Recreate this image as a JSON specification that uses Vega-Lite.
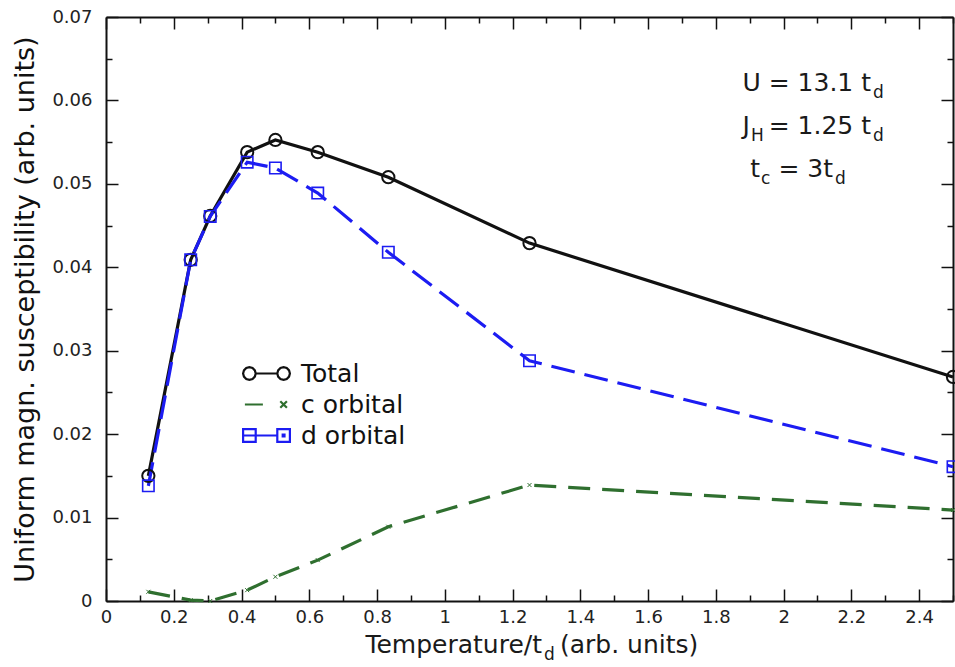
{
  "$schema": "https://vega.github.io/schema/vega-lite/v6.json",
  "width": 847,
  "height": 584,
  "autosize": {"type": "none"},
  "padding": {"left": 106, "top": 17, "right": 2, "bottom": 66},
  "background": "white",
  "config": {
    "font": "DejaVu Sans",
    "view": {"stroke": null},
    "axis": {"grid": false, "domainColor": "#111", "domainWidth": 2, "tickColor": "#111", "tickWidth": 1.5, "labelColor": "#222", "labelFont": "DejaVu Sans", "labelFontSize": 18, "labelFlush": false, "labelOverlap": false, "titleFont": "DejaVu Sans", "titleFontWeight": "normal", "titleColor": "#111"}
  },
  "datasets": {
    "chi": [
      {"T": 0.125, "chi": 0.0150, "s": "Total"},
      {"T": 0.25, "chi": 0.0409, "s": "Total"},
      {"T": 0.3077, "chi": 0.04615, "s": "Total"},
      {"T": 0.4167, "chi": 0.0538, "s": "Total"},
      {"T": 0.5, "chi": 0.05526, "s": "Total"},
      {"T": 0.625, "chi": 0.0538, "s": "Total"},
      {"T": 0.8333, "chi": 0.0508, "s": "Total"},
      {"T": 1.25, "chi": 0.0429, "s": "Total"},
      {"T": 2.5, "chi": 0.02685, "s": "Total"},
      {"T": 0.125, "chi": 0.0011, "s": "c orbital"},
      {"T": 0.25, "chi": 0.0001, "s": "c orbital"},
      {"T": 0.3077, "chi": 0.0, "s": "c orbital"},
      {"T": 0.4167, "chi": 0.0013, "s": "c orbital"},
      {"T": 0.5, "chi": 0.0029, "s": "c orbital"},
      {"T": 0.625, "chi": 0.0049, "s": "c orbital"},
      {"T": 0.8333, "chi": 0.0089, "s": "c orbital"},
      {"T": 1.25, "chi": 0.0139, "s": "c orbital"},
      {"T": 2.5, "chi": 0.0109, "s": "c orbital"},
      {"T": 0.125, "chi": 0.0138, "s": "d orbital"},
      {"T": 0.25, "chi": 0.0409, "s": "d orbital"},
      {"T": 0.3077, "chi": 0.0461, "s": "d orbital"},
      {"T": 0.4167, "chi": 0.0526, "s": "d orbital"},
      {"T": 0.5, "chi": 0.0519, "s": "d orbital"},
      {"T": 0.625, "chi": 0.0489, "s": "d orbital"},
      {"T": 0.8333, "chi": 0.0418, "s": "d orbital"},
      {"T": 1.25, "chi": 0.0288, "s": "d orbital"},
      {"T": 2.5, "chi": 0.0161, "s": "d orbital"}
    ],
    "notes": [
      {"T": 2.258, "chi": 0.06113, "label": "U = 13.1 t", "part": "main"},
      {"T": 2.2639, "chi": 0.06113, "label": "d", "part": "sub"},
      {"T": 1.9008, "chi": 0.05597, "label": "J", "part": "main"},
      {"T": 1.9038, "chi": 0.05597, "label": "H", "part": "sub"},
      {"T": 2.258, "chi": 0.05597, "label": "= 1.25 t", "part": "main"},
      {"T": 2.2639, "chi": 0.05597, "label": "d", "part": "sub"},
      {"T": 1.9303, "chi": 0.05082, "label": "t", "part": "main"},
      {"T": 1.9333, "chi": 0.05082, "label": "c", "part": "sub"},
      {"T": 2.1458, "chi": 0.05082, "label": "= 3t", "part": "main"},
      {"T": 2.1517, "chi": 0.05082, "label": "d", "part": "sub"},
      {"T": 1.287, "chi": -0.00623, "label": "Temperature/t", "part": "main"},
      {"T": 1.293, "chi": -0.00623, "label": "d", "part": "sub"},
      {"T": 1.340, "chi": -0.00623, "label": "(arb. units)", "part": "tail"}
    ]
  },
  "layer": [
    {
      "data": {"name": "chi"},
      "transform": [{"filter": "datum.s == 'Total'"}],
      "mark": {"type": "line", "strokeWidth": 3.2, "stroke": "#111111"},
      "encoding": {
        "x": {"field": "T", "type": "quantitative", "scale": {"domain": [0, 2.5], "nice": false, "zero": false}, "axis": null},
        "y": {"field": "chi", "type": "quantitative", "scale": {"domain": [0, 0.07], "nice": false, "zero": false}, "axis": null}
      }
    },
    {
      "data": {"name": "chi"},
      "transform": [{"filter": "datum.s == 'c orbital'"}],
      "mark": {"type": "line", "strokeWidth": 3.2, "stroke": "#2f6f2f", "strokeDash": [22, 12]},
      "encoding": {
        "x": {"field": "T", "type": "quantitative", "axis": null},
        "y": {"field": "chi", "type": "quantitative", "axis": null}
      }
    },
    {
      "data": {"name": "chi"},
      "transform": [{"filter": "datum.s == 'd orbital'"}],
      "mark": {"type": "line", "strokeWidth": 3.2, "stroke": "#1c1cf2", "strokeDash": [24, 10]},
      "encoding": {
        "x": {"field": "T", "type": "quantitative", "axis": null},
        "y": {"field": "chi", "type": "quantitative", "axis": null}
      }
    },
    {
      "data": {"name": "chi"},
      "transform": [{"filter": "datum.T < 0"}],
      "mark": {"type": "point", "filled": false, "strokeWidth": 2.2, "size": 144, "opacity": 1},
      "encoding": {
        "x": {"field": "T", "type": "quantitative", "axis": null},
        "y": {"field": "chi", "type": "quantitative", "axis": null},
        "color": {"field": "s", "type": "nominal", "scale": {"domain": ["Total", "c orbital", "d orbital"], "range": ["#111111", "#2f6f2f", "#1c1cf2"]},
          "legend": {"orient": "none", "legendX": 148, "legendY": 344, "title": null, "labelFontSize": 25, "labelFont": "DejaVu Sans", "labelColor": "#111", "symbolSize": 144, "symbolStrokeWidth": 2.2, "symbolOpacity": 1, "labelOffset": 22, "rowPadding": 5, "padding": 0}},
        "shape": {"field": "s", "type": "nominal",
          "scale": {"domain": ["Total", "c orbital", "d orbital"], "range": [
            "M-1.8,0L-1.941,0.525L-2.325,0.909L-2.85,1.05L-3.375,0.909L-3.759,0.525L-3.9,0L-3.759,-0.525L-3.375,-0.909L-2.85,-1.05L-2.325,-0.909L-1.941,-0.525ZM-1.8,0L1.8,0M3.9,0L3.759,0.525L3.375,0.909L2.85,1.05L2.325,0.909L1.941,0.525L1.8,0L1.941,-0.525L2.325,-0.909L2.85,-1.05L3.375,-0.909L3.759,-0.525Z",
            "M-3.6,0L-0.6,0M2.3,-0.55L3.4,0.55M2.3,0.55L3.4,-0.55",
            "M-3.9,-1.05L-1.8,-1.05L-1.8,1.05L-3.9,1.05ZM-3.9,0L1.8,0M1.8,-1.05L3.9,-1.05L3.9,1.05L1.8,1.05ZM2.7,-0.15L3.0,-0.15L3.0,0.15L2.7,0.15Z"]},
          "legend": {"orient": "none", "legendX": 148, "legendY": 344, "title": null, "labelFontSize": 25, "labelFont": "DejaVu Sans", "labelColor": "#111", "symbolSize": 144, "symbolStrokeWidth": 2.2, "symbolOpacity": 1, "labelOffset": 22, "rowPadding": 5, "padding": 0}}
      }
    },
    {
      "data": {"name": "chi"},
      "transform": [{"filter": "datum.s == 'Total'"}],
      "mark": {"type": "point", "filled": false, "strokeWidth": 2, "opacity": 1, "shape": "circle", "size": 150},
      "encoding": {
        "x": {"field": "T", "type": "quantitative", "axis": null},
        "y": {"field": "chi", "type": "quantitative", "axis": null},
        "color": {"field": "s", "type": "nominal"}
      }
    },
    {
      "data": {"name": "chi"},
      "transform": [{"filter": "datum.s == 'c orbital'"}],
      "mark": {"type": "point", "filled": false, "strokeWidth": 1, "opacity": 1, "shape": "M-1,-1L1,1M-1,1L1,-1", "size": 16},
      "encoding": {
        "x": {"field": "T", "type": "quantitative", "axis": null},
        "y": {"field": "chi", "type": "quantitative", "axis": null},
        "color": {"field": "s", "type": "nominal"}
      }
    },
    {
      "data": {"name": "chi"},
      "transform": [{"filter": "datum.s == 'd orbital'"}],
      "mark": {"type": "point", "filled": false, "strokeWidth": 1.6, "opacity": 1, "shape": "square", "size": 130},
      "encoding": {
        "x": {"field": "T", "type": "quantitative", "axis": null},
        "y": {"field": "chi", "type": "quantitative", "axis": null},
        "color": {"field": "s", "type": "nominal"}
      }
    },
    {
      "data": {"name": "notes"},
      "transform": [{"filter": "datum.part == 'main'"}],
      "mark": {"type": "text", "align": "right", "baseline": "alphabetic", "fontSize": 25, "font": "DejaVu Sans", "color": "#1a1a1a"},
      "encoding": {
        "x": {"field": "T", "type": "quantitative", "axis": null},
        "y": {"field": "chi", "type": "quantitative", "axis": null},
        "text": {"field": "label"}
      }
    },
    {
      "data": {"name": "notes"},
      "transform": [{"filter": "datum.part == 'sub'"}],
      "mark": {"type": "text", "align": "left", "baseline": "alphabetic", "fontSize": 17, "dy": 7, "font": "DejaVu Sans", "color": "#1a1a1a"},
      "encoding": {
        "x": {"field": "T", "type": "quantitative", "axis": null},
        "y": {"field": "chi", "type": "quantitative", "axis": null},
        "text": {"field": "label"}
      }
    },
    {
      "data": {"name": "notes"},
      "transform": [{"filter": "datum.part == 'tail'"}],
      "mark": {"type": "text", "align": "left", "baseline": "alphabetic", "fontSize": 25, "font": "DejaVu Sans", "color": "#1a1a1a"},
      "encoding": {
        "x": {"field": "T", "type": "quantitative", "axis": null},
        "y": {"field": "chi", "type": "quantitative", "axis": null},
        "text": {"field": "label"}
      }
    },
    {
      "data": {"name": "chi"},
      "mark": {"type": "point", "opacity": 0},
      "encoding": {
        "x": {"field": "T", "type": "quantitative",
          "axis": {"orient": "bottom", "title": null,
            "values": [0, 0.1, 0.2, 0.3, 0.4, 0.5, 0.6, 0.7, 0.8, 0.9, 1, 1.1, 1.2, 1.3, 1.4, 1.5, 1.6, 1.7, 1.8, 1.9, 2, 2.1, 2.2, 2.3, 2.4, 2.5],
            "labelExpr": "round(datum.value*10) % 2 == 0 && datum.value < 2.45 ? format(datum.value, '~g') : ''",
            "tickSize": {"condition": {"test": "round(datum.value*10) % 2 == 0", "value": -12}, "value": -6},
            "labelPadding": 19}},
        "y": {"field": "chi", "type": "quantitative",
          "axis": {"orient": "left", "title": "Uniform magn. susceptibility (arb. units)",
            "values": [0, 0.005, 0.01, 0.015, 0.02, 0.025, 0.03, 0.035, 0.04, 0.045, 0.05, 0.055, 0.06, 0.065, 0.07],
            "labelExpr": "round(datum.value*1000) % 10 == 0 ? format(datum.value, '~g') : ''",
            "tickSize": {"condition": {"test": "round(datum.value*1000) % 10 == 0", "value": -12}, "value": -6},
            "labelPadding": 26, "titleFontSize": 27, "titlePadding": 12}}
      }
    },
    {
      "data": {"name": "chi"},
      "mark": {"type": "point", "opacity": 0},
      "encoding": {
        "x": {"field": "T", "type": "quantitative",
          "axis": {"orient": "top", "title": null, "labels": false,
            "values": [0, 0.1, 0.2, 0.3, 0.4, 0.5, 0.6, 0.7, 0.8, 0.9, 1, 1.1, 1.2, 1.3, 1.4, 1.5, 1.6, 1.7, 1.8, 1.9, 2, 2.1, 2.2, 2.3, 2.4, 2.5],
            "tickSize": {"condition": {"test": "round(datum.value*10) % 2 == 0", "value": -12}, "value": -6}}},
        "y": {"field": "chi", "type": "quantitative",
          "axis": {"orient": "right", "title": null, "labels": false,
            "values": [0, 0.005, 0.01, 0.015, 0.02, 0.025, 0.03, 0.035, 0.04, 0.045, 0.05, 0.055, 0.06, 0.065, 0.07],
            "tickSize": {"condition": {"test": "round(datum.value*1000) % 10 == 0", "value": -12}, "value": -6}}}
      }
    }
  ],
  "resolve": {"axis": {"x": "independent", "y": "independent"}}
}
